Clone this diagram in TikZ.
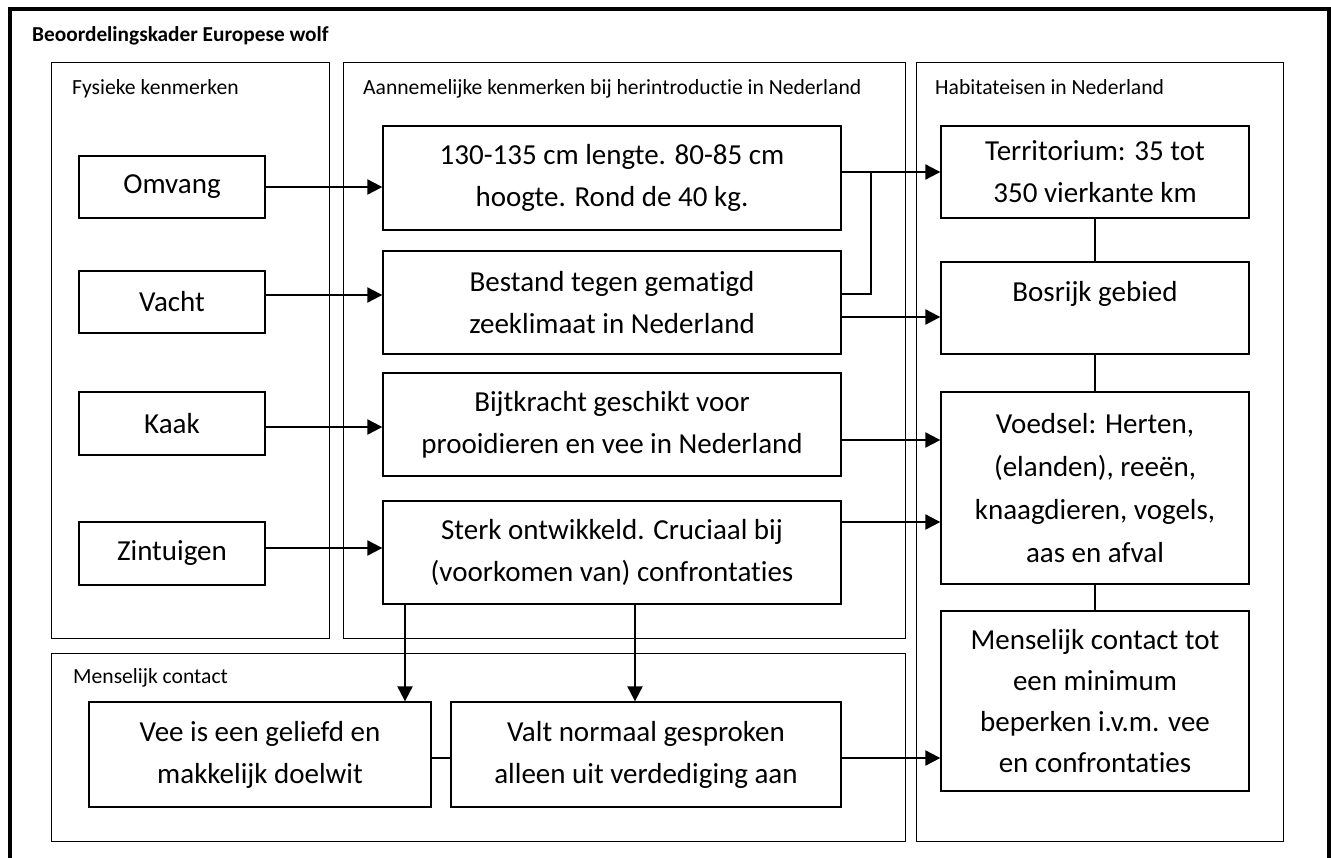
\documentclass[tikz,border=0pt]{standalone}
\usepackage{fontspec}
\setmainfont{Carlito}[Ligatures=NoCommon]
\usetikzlibrary{arrows.meta}
\tikzset{
  grp/.style={draw, line width=1pt, inner sep=0pt},
  bx/.style={draw, line width=1.3pt, inner sep=0pt, align=center, font=\fontsize{29}{42}\selectfont},
  lbl/.style={anchor=base west, inner sep=0pt, font=\fontsize{21.6}{26}\selectfont},
  arr/.style={line width=2pt, -{Triangle[length=15pt,width=15pt]}},
  lnk/.style={line width=1.3pt},
}
\begin{document}
\begin{tikzpicture}[x=1pt,y=-1pt]
\useasboundingbox (0,0) rectangle (1331,857);
\clip (0,0) rectangle (1331,857);
% outer frame
\draw[line width=4pt] (10,890) -- (10,9) -- (1329,9) -- (1329,890);
\node[lbl, font=\fontsize{21.3}{26}\selectfont\bfseries] (title) at (32,41) {Beoordelingskader Europese wolf};
% groups
\node[grp, minimum width=278pt, minimum height=576pt] (g1) at (190,350) {};
\node[grp, minimum width=562pt, minimum height=576pt] (g2) at (624,350) {};
\node[grp, minimum width=367pt, minimum height=779pt] (g3) at (1099.5,451.5) {};
\node[grp, minimum width=854pt, minimum height=188pt] (g4) at (478,747) {};
\node[lbl] (t1) at (72,94) {Fysieke kenmerken};
\node[lbl] (t2) at (363,94) {Aannemelijke kenmerken bij herintroductie in Nederland};
\node[lbl] (t3) at (935,94) {Habitateisen in Nederland};
\node[lbl] (t4) at (73,683) {Menselijk contact};
% left column
\node[bx, minimum width=186pt, minimum height=62pt] (omv) at (172,187) {Omvang};
\node[bx, minimum width=186pt, minimum height=62pt] (vac) at (172,302) {Vacht};
\node[bx, minimum width=186pt, minimum height=63pt] (kaak) at (172,423.5) {Kaak};
\node[bx, minimum width=186pt, minimum height=63pt] (zin) at (172,553.5) {Zintuigen};
% middle column
\node[bx, minimum width=458pt, minimum height=104pt] (m1) at (612,178) {130-135 cm lengte. 80-85 cm\\hoogte. Rond de 40 kg.};
\node[bx, minimum width=458pt, minimum height=103pt] (m2) at (612,302.5) {Bestand tegen gematigd\\zeeklimaat in Nederland};
\node[bx, minimum width=458pt, minimum height=103pt] (m3) at (612,424.5) {Bijtkracht geschikt voor\\prooidieren en vee in Nederland};
\node[bx, minimum width=458pt, minimum height=103pt] (m4) at (612,552.5) {Sterk ontwikkeld. Cruciaal bij\\(voorkomen van) confrontaties};
% right column
\node[bx, minimum width=308pt, minimum height=92pt] (r1) at (1095,172) {Territorium: 35 tot\\350 vierkante km};
\node[bx, minimum width=308pt, minimum height=92pt, text height=20pt, text depth=34pt] (r2) at (1095,308) {Bosrijk gebied};
\node[bx, minimum width=308pt, minimum height=192pt, font=\fontsize{29}{43}\selectfont] (r3) at (1095,488) {Voedsel: Herten,\\(elanden), reeën,\\knaagdieren, vogels,\\aas en afval};
\node[bx, minimum width=308pt, minimum height=180pt, font=\fontsize{29}{41}\selectfont] (r4) at (1095,701) {Menselijk contact tot\\een minimum\\beperken i.v.m. vee\\en confrontaties};
% bottom
\node[bx, minimum width=342pt, minimum height=105pt] (b1) at (260,754.5) {Vee is een geliefd en\\makkelijk doelwit};
\node[bx, minimum width=390pt, minimum height=105pt] (b2) at (646,754.5) {Valt normaal gesproken\\alleen uit verdediging aan};
% anchor points
\coordinate (vacO) at ([yshift=7pt]vac.east);
\coordinate (kaakO) at ([yshift=-3.5pt]kaak.east);
\coordinate (zinO) at ([yshift=5.5pt]zin.east);
\coordinate (m2a) at ([yshift=8.5pt]m2.east);
\coordinate (m2b) at ([yshift=-14.5pt]m2.east);
\coordinate (m3b) at ([yshift=-15.5pt]m3.east);
\coordinate (m4b) at ([yshift=30.5pt]m4.east);
\coordinate (m4l) at ([xshift=-207pt]m4.south);
\coordinate (m4r) at ([xshift=23pt]m4.south);
\coordinate (b1e) at ([yshift=-3.5pt]b1.east);
\coordinate (b2e) at ([yshift=-3.5pt]b2.east);
\coordinate (jn) at (871,172);
% connectors left -> middle
\draw[arr] (omv.east) -- (omv.east -| m1.west);
\draw[arr] (vacO) -- (vacO -| m2.west);
\draw[arr] (kaakO) -- (kaakO -| m3.west);
\draw[arr] (zinO) -- (zinO -| m4.west);
% middle -> right
\draw[arr] (m1.east |- r1.west) -- (r1.west);
\draw[lnk] (m2a) -| (jn);
\draw[arr] (m2b) -- (m2b -| r2.west);
\draw[arr] (m3b) -- (m3b -| r3.west);
\draw[arr] (m4b) -- (m4b -| r3.west);
% middle -> bottom
\draw[arr] (m4l) -- (m4l |- b1.north);
\draw[arr] (m4r) -- (m4r |- b2.north);
\draw[lnk] (b1e) -- (b1e -| b2.west);
\draw[arr] (b2e) -- (b2e -| r4.west);
% right column links
\draw[lnk] (r1.south) -- (r2.north);
\draw[lnk] (r2.south) -- (r3.north);
\draw[lnk] (r3.south) -- (r4.north);
\end{tikzpicture}
\end{document}
